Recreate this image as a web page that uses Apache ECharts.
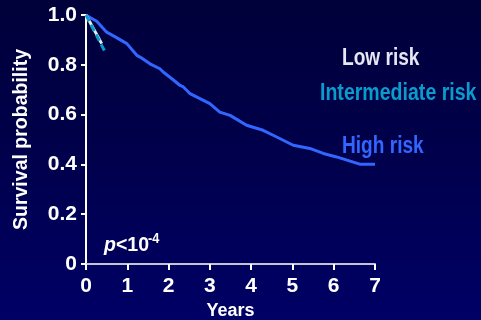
<!DOCTYPE html>
<html>
<head>
<meta charset="utf-8">
<script src="https://cdn.jsdelivr.net/npm/echarts@6/dist/echarts.min.js"></script>
<style>
html,body{margin:0;padding:0;overflow:hidden;}
body{width:481px;height:320px;background:linear-gradient(to bottom,#00003a 0%,#00004c 50%,#000066 100%);}
#c{width:481px;height:320px;}
</style>
</head>
<body>
<div id="c"></div>
<script>
// ---- data ----
const xTicks = [0, 1, 2, 3, 4, 5, 6, 7];
const yTicks = [0, 0.2, 0.4, 0.6, 0.8, 1.0];
const highYears = [0, 0.1, 0.26, 0.5, 0.74, 0.99, 1.23, 1.31, 1.55, 1.79, 1.87, 2.11, 2.28, 2.36, 2.52, 2.76, 3.0, 3.24, 3.49, 3.89, 4.29, 4.62, 5.02, 5.42, 5.75, 6.07, 6.63, 7.0];
const highSurv  = [1.0, 0.99, 0.975, 0.931, 0.909, 0.885, 0.838, 0.831, 0.804, 0.784, 0.771, 0.740, 0.717, 0.711, 0.684, 0.664, 0.644, 0.610, 0.597, 0.557, 0.537, 0.510, 0.477, 0.464, 0.444, 0.430, 0.401, 0.401];
const interYears = [0, 0.48];
const interSurv  = [1.0, 0.846];
const lowYears = [0, 0.38];
const lowSurv  = [1.0, 0.885];
const seriesNames = ['Low risk', 'Intermediate risk', 'High risk'];

const FONT = "'Liberation Sans',Arial,sans-serif";
const zip = (a, b) => a.map((v, i) => [v, b[i]]);

const chart = echarts.init(document.getElementById('c'), null, {renderer: 'canvas'});
chart.setOption({
  backgroundColor: 'transparent',
  animation: false,
  grid: {left: 86, right: 106, top: 15, bottom: 56, containLabel: false, outerBoundsMode: 'none'},
  xAxis: {
    type: 'value', min: 0, max: 7, interval: 1,
    name: 'Years', nameLocation: 'middle', nameGap: 38,
    nameTextStyle: {color: '#ffffff', fontFamily: FONT, fontWeight: 'bold', fontSize: 18},
    axisLine: {show: true, lineStyle: {color: '#c4c4d4', width: 2}},
    axisTick: {show: true, length: 6, lineStyle: {color: '#ffffff', width: 2}},
    axisLabel: {color: '#ffffff', fontFamily: FONT, fontWeight: 'bold', fontSize: 21, margin: 12,
      formatter: v => xTicks.includes(v) ? String(v) : ''},
    splitLine: {show: false}
  },
  yAxis: {
    type: 'value', min: 0, max: 1, interval: 0.2,
    name: 'Survival probability', nameLocation: 'middle', nameGap: 54, nameRotate: 90,
    nameTextStyle: {color: '#ffffff', fontFamily: FONT, fontWeight: 'bold', fontSize: 19.5},
    axisLine: {show: true, lineStyle: {color: '#ffffff', width: 2}},
    axisTick: {show: true, length: 5, lineStyle: {color: '#ffffff', width: 2}},
    axisLabel: {color: '#ffffff', fontFamily: FONT, fontWeight: 'bold', fontSize: 21, margin: 9,
      formatter: v => {
        const t = yTicks.find(k => Math.abs(k - v) < 1e-6);
        if (t === undefined) return '';
        return t === 0 ? '0' : t.toFixed(1);
      }},
    splitLine: {show: false}
  },
  series: [
    {name: seriesNames[2], type: 'line', data: zip(highYears, highSurv), showSymbol: false, symbol: 'none',
      lineStyle: {color: '#3366ff', width: 3}, z: 3},
    {name: seriesNames[0], type: 'line', data: zip(lowYears, lowSurv), showSymbol: false, symbol: 'none',
      lineStyle: {color: '#e8e8f4', width: 3}, z: 4},
    {name: seriesNames[1], type: 'line', data: zip(interYears, interSurv), showSymbol: false, symbol: 'none',
      lineStyle: {color: '#0a9ccc', width: 3, type: [7, 4]}, z: 5}
  ],
  graphic: [
    {type: 'text', left: 342, top: 47, scaleX: 0.83, style: {text: seriesNames[0], fill: '#e6e6f4', font: "bold 23px " + FONT}},
    {type: 'text', left: 320, top: 82, scaleX: 0.85, style: {text: seriesNames[1], fill: '#0a9ccc', font: "bold 23px " + FONT}},
    {type: 'text', left: 342, top: 135, scaleX: 0.83, style: {text: seriesNames[2], fill: '#3366ff', font: "bold 23px " + FONT}},
    {type: 'text', left: 104, top: 235, scaleX: 0.93, style: {
      text: '{i|p}{n|<10}', fill: '#ffffff',
      rich: {
        i: {fontFamily: FONT, fontStyle: 'italic', fontWeight: 'bold', fontSize: 21, fill: '#ffffff'},
        n: {fontFamily: FONT, fontWeight: 'bold', fontSize: 21, fill: '#ffffff'}
      }}},
    {type: 'text', left: 148, top: 231, scaleX: 0.85, style: {text: '-4', fill: '#ffffff', font: "bold 15px " + FONT}}
  ]
});
</script>
</body>
</html>
